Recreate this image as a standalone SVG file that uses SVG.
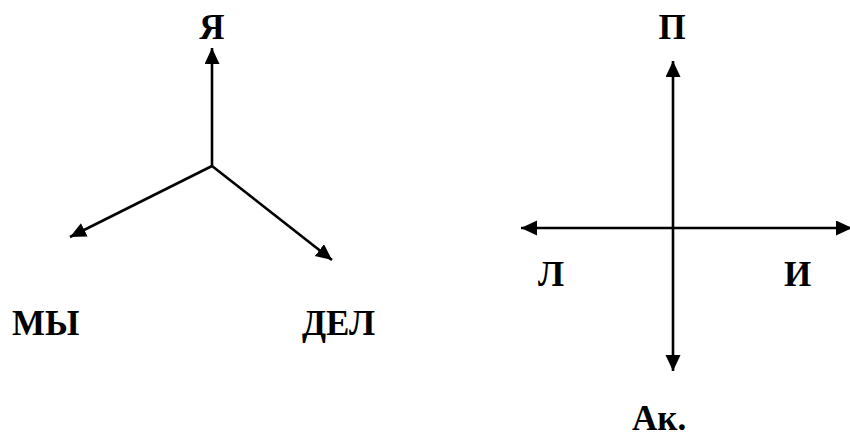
<svg xmlns="http://www.w3.org/2000/svg" width="850" height="436" viewBox="0 0 850 436">
<style>
.lbl{font-family:"Liberation Serif","Times New Roman",serif;font-weight:bold;font-size:35px;fill:#000}
.ax{stroke:#000;stroke-width:2.6;fill:none}
</style>
<defs>
<marker id="ah" markerUnits="userSpaceOnUse" markerWidth="18" markerHeight="16" refX="16" refY="7.5" orient="auto-start-reverse" viewBox="0 0 18 16">
<path d="M0,0 L16,7.5 L0,15 Z" fill="#000"/>
</marker>
</defs>
<rect width="850" height="436" fill="#fff"/>
<g id="connectors">
<line class="ax" x1="212" y1="166" x2="212" y2="48" marker-end="url(#ah)"/>
<line class="ax" x1="212" y1="166" x2="70" y2="237" marker-end="url(#ah)"/>
<line class="ax" x1="212" y1="166" x2="332" y2="260" marker-end="url(#ah)"/>
<line class="ax" x1="673" y1="61" x2="673" y2="371" marker-start="url(#ah)" marker-end="url(#ah)"/>
<line class="ax" x1="521" y1="228" x2="852" y2="228" marker-start="url(#ah)" marker-end="url(#ah)"/>
</g>
<g id="n-ya"><text class="lbl" x="212" y="39" text-anchor="middle">Я</text></g>
<g id="n-my"><text class="lbl" x="12" y="335">МЫ</text></g>
<g id="n-del"><text class="lbl" x="302" y="335">ДЕЛ</text></g>
<g id="n-p"><text class="lbl" x="672" y="39" text-anchor="middle">П</text></g>
<g id="n-l"><text class="lbl" x="538" y="286">Л</text></g>
<g id="n-i"><text class="lbl" x="784" y="286">И</text></g>
<g id="n-ak"><text class="lbl" x="632" y="430">Ак.</text></g>
</svg>
